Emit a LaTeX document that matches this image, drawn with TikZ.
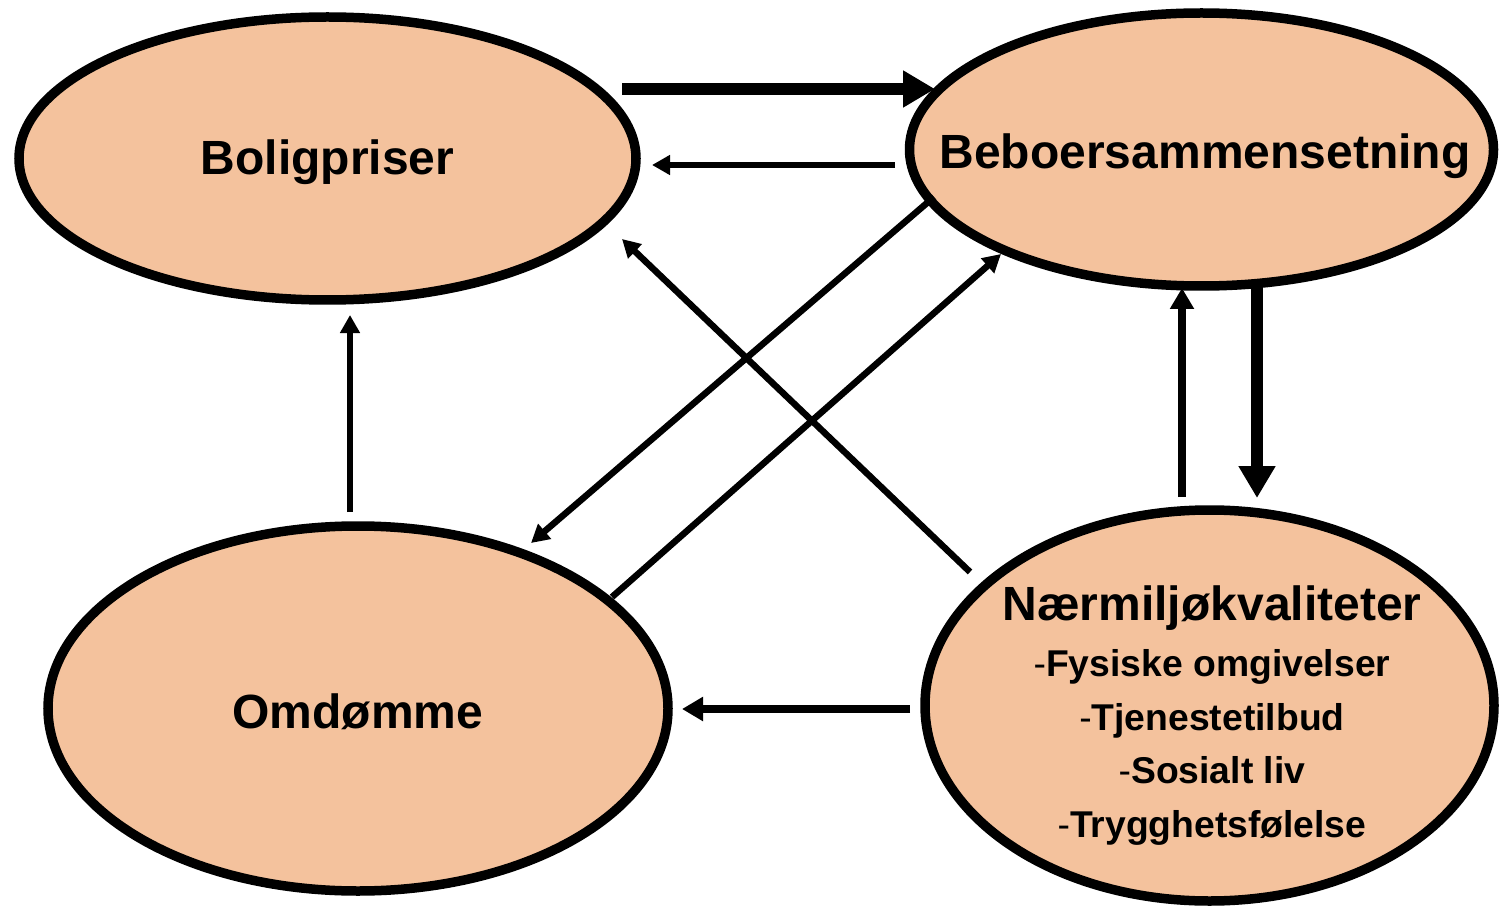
\documentclass[tikz,border=0pt]{standalone}
\usepackage{fontspec}
\setmainfont{Liberation Sans}
\usetikzlibrary{shapes.geometric,arrows.meta}
\definecolor{peach}{RGB}{244,194,157}
\tikzset{
  blob/.style={ellipse, draw=black, fill=peach, line width=9.5pt, inner sep=0pt},
  big/.style={font=\fontsize{48}{56}\selectfont\bfseries, anchor=base, inner sep=0pt},
  small/.style={font=\fontsize{37.3}{44}\selectfont, anchor=base, inner sep=0pt},
  thin/.style={line width=6.5pt, -{Triangle[length=18pt,width=19pt]}},
  mid/.style={line width=7.5pt, -{Triangle[length=21pt,width=23pt]}},
  thick/.style={line width=12pt, -{Triangle[length=32pt,width=35pt]}},
}
\begin{document}
\begin{tikzpicture}[x=1pt,y=-1pt]
\useasboundingbox[fill=white] (0,0) rectangle (1499,909);
\node[blob, minimum width=617pt, minimum height=283pt] (bol) at (327.5,158.5) {};
\node[blob, minimum width=584pt, minimum height=273pt] (beb) at (1201.5,149.5) {};
\node[blob, minimum width=620pt, minimum height=365pt] (omd) at (358,708.5) {};
\node[blob, minimum width=569pt, minimum height=391pt] (nar) at (1209.5,705.5) {};

\node[big] (tbol) at (327.5,175) {Boligpriser};
\node[big] (tbeb) at (1205,169) {Beboersammensetning};
\node[big] (tomd) at (358,728) {Omdømme};
\node[big] (tnar) at (1212,620) {Nærmiljøkvaliteter};
\node[small] (s1) at (1212,676) {-\textbf{Fysiske omgivelser}};
\node[small] (s2) at (1212,730) {-\textbf{Tjenestetilbud}};
\node[small] (s3) at (1212,783) {-\textbf{Sosialt liv}};
\node[small] (s4) at (1212,837) {-\textbf{Trygghetsfølelse}};

% arrow end points
\coordinate (a1s) at (622,89);   \coordinate (a1e) at (935,89);
\coordinate (a2s) at (895,165);  \coordinate (a2e) at (652,165);
\coordinate (a3s) at (934,197);  \coordinate (a3e) at (531,543);
\coordinate (a4s) at (612,597);  \coordinate (a4e) at (1001,254);
\coordinate (a5s) at (970,572);  \coordinate (a5e) at (622,239);
\coordinate (a6s) at (350,512);  \coordinate (a6e) at (350,315);
\coordinate (a7s) at (1182,497); \coordinate (a7e) at (1182,288);
\coordinate (a8s) at (1257,288); \coordinate (a8e) at (1257,498);
\coordinate (a9s) at (910,709);  \coordinate (a9e) at (682,709);

\draw[thick] (a1s) -- (a1e);
\draw[thin] (a2s) -- (a2e);
\draw[thin] (a3s) -- (a3e);
\draw[thin] (a4s) -- (a4e);
\draw[thin] (a5s) -- (a5e);
\draw[thin] (a6s) -- (a6e);
\draw[mid] (a7s) -- (a7e);
\draw[thick] (a8s) -- (a8e);
\draw[mid] (a9s) -- (a9e);
\end{tikzpicture}
\end{document}
